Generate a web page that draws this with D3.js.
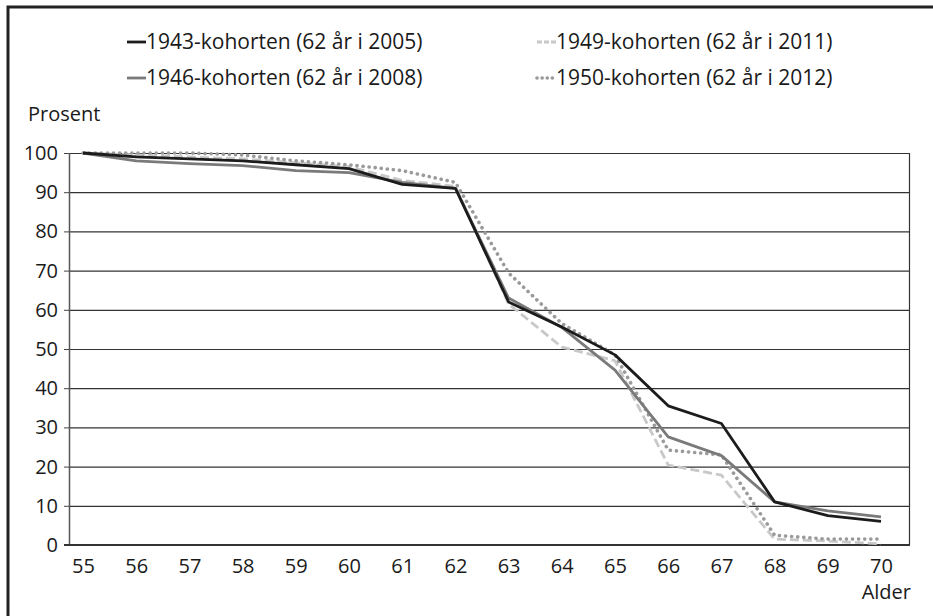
<!DOCTYPE html>
<html>
<head>
<meta charset="utf-8">
<script src="https://cdn.jsdelivr.net/npm/d3@7"></script>
<style>
  body { margin: 0; background: #fff; }
  text { font-family: "Open Sans", "Noto Sans", sans-serif; fill: #1a1a1a; }
</style>
</head>
<body>
<div id="canvas"></div>
<script>
"use strict"

// chart values
let ages = [55, 56, 57, 58, 59, 60, 61, 62, 63, 64, 65, 66, 67, 68, 69, 70];
let yTicks = [0, 10, 20, 30, 40, 50, 60, 70, 80, 90, 100];
let seriesNames = [
    "1943-kohorten (62 år i 2005)",
    "1946-kohorten (62 år i 2008)",
    "1949-kohorten (62 år i 2011)",
    "1950-kohorten (62 år i 2012)"
];
let c1943 = [100, 99, 98.5, 98, 97, 96, 92, 91, 62, 55.6, 48.5, 35.5, 31, 11, 7.5, 6];
let c1946 = [100, 98, 97.3, 96.8, 95.5, 95, 92.5, 91, 63, 55.5, 44.6, 27.6, 22.8, 11, 8.7, 7.2];
let c1949 = [100, 99.5, 99, 98.5, 97.5, 96.5, 93, 91.5, 61.5, 50.5, 47, 20.4, 17.8, 1.5, 1, 0.3];
let c1950 = [100, 100, 100, 99.5, 98, 97, 95.5, 92.5, 69.4, 56.5, 48.5, 24.2, 23, 2.5, 1.5, 1.5];

let svgWidth = 933;
let svgHeight = 616;
let fontSize = "20px";

// plot area box
let plotLeft = 69, plotRight = 909, plotTop = 153, plotBottom = 545;

let svg = d3.select("#canvas")
    .append("svg")
    .attr("width", svgWidth)
    .attr("height", svgHeight);

/* outer frame, runs off the right and bottom edge like in the picture */
svg.append("rect")
    .attr("x", 8)
    .attr("y", 7)
    .attr("width", 940)
    .attr("height", 640)
    .attr("fill", "none")
    .attr("stroke", "#222")
    .attr("stroke-width", 3);

let xScale = d3.scalePoint()
    .domain(ages)
    .range([83, 881]);

let yScale = d3.scaleLinear()
    .domain([0, 100])
    .range([plotBottom, plotTop]);

// y ticks through the axis generator
let yAxis = svg.append("g")
    .attr("transform", "translate(" + plotLeft + ",0)")
    .call(d3.axisLeft(yScale)
        .tickValues(yTicks)
        .tickSize(5)
        .tickPadding(6));
yAxis.select(".domain").remove();
yAxis.selectAll(".tick line").attr("stroke", "#444");
yAxis.selectAll(".tick text")
    .style("font-size", fontSize)
    .style("font-family", "'Open Sans', 'Noto Sans', sans-serif")
    .attr("fill", "#1a1a1a");

// gridlines
svg.append("g")
    .selectAll("line")
    .data(yTicks.filter(d => d > 0))
    .join("line")
    .attr("x1", plotLeft)
    .attr("x2", plotRight)
    .attr("y1", d => yScale(d) + 0.5)
    .attr("y2", d => yScale(d) + 0.5)
    .attr("stroke", "#333")
    .attr("stroke-width", 1.2);

// left and right sides of plot box
svg.append("line")
    .attr("x1", plotLeft + 0.5).attr("x2", plotLeft + 0.5)
    .attr("y1", plotTop).attr("y2", plotBottom)
    .attr("stroke", "#555").attr("stroke-width", 1.5);
svg.append("line")
    .attr("x1", plotRight + 0.5).attr("x2", plotRight + 0.5)
    .attr("y1", plotTop).attr("y2", plotBottom)
    .attr("stroke", "#333").attr("stroke-width", 1.2);

// x axis labels
let xAxis = svg.append("g")
    .attr("transform", "translate(0," + plotBottom + ")")
    .call(d3.axisBottom(xScale).tickSize(0).tickPadding(14));
xAxis.select(".domain").remove();
xAxis.selectAll(".tick text")
    .style("font-size", fontSize)
    .style("font-family", "'Open Sans', 'Noto Sans', sans-serif")
    .attr("fill", "#1a1a1a");

// bottom axis line
svg.append("line")
    .attr("x1", plotLeft - 5).attr("x2", plotRight + 1)
    .attr("y1", plotBottom).attr("y2", plotBottom)
    .attr("stroke", "#333").attr("stroke-width", 2.2);

// series styles
let seriesList = [
    { name: seriesNames[0], values: c1943, color: "#1c1c1c", dash: null, cap: "butt" },
    { name: seriesNames[1], values: c1946, color: "#7a7a7a", dash: null, cap: "butt" },
    { name: seriesNames[2], values: c1949, color: "#c8c8c8", dash: "9,4", cap: "butt" },
    { name: seriesNames[3], values: c1950, color: "#9a9a9a", dash: "0.1,6", cap: "round" }
];

let line = d3.line()
    .x((d, i) => xScale(ages[i]))
    .y(d => yScale(d));

// draw order: light ones underneath
let drawOrder = [2, 3, 1, 0];
svg.append("g")
    .selectAll("path")
    .data(drawOrder.map(i => seriesList[i]))
    .join("path")
    .attr("d", d => line(d.values))
    .attr("fill", "none")
    .attr("stroke", d => d.color)
    .attr("stroke-width", d => d.cap === "round" ? 3.6 : 2.8)
    .attr("stroke-dasharray", d => d.dash)
    .attr("stroke-linecap", d => d.cap)
    .attr("stroke-linejoin", "round");

// legend
let legendPos = [[120, 42], [120, 78], [530, 42], [530, 78]];
let legend = svg.append("g")
    .selectAll("g")
    .data(seriesList)
    .join("g")
    .attr("transform", (d, i) => "translate(" + legendPos[i][0] + "," + legendPos[i][1] + ")");

legend.append("line")
    .attr("x1", 7).attr("x2", 26)
    .attr("y1", 0).attr("y2", 0)
    .attr("stroke", d => d.color)
    .attr("stroke-width", d => d.cap === "round" ? 3.6 : 2.8)
    .attr("stroke-dasharray", d => d.dash ? (d.cap === "round" ? "0.1,5" : "5,2") : null)
    .attr("stroke-linecap", d => d.cap);

legend.append("text")
    .attr("x", 26)
    .attr("y", 0)
    .attr("dy", "0.35em")
    .style("font-size", "21px")
    .text(d => d.name);

// axis titles
svg.append("text")
    .attr("x", 28)
    .attr("y", 121)
    .style("font-size", "20px")
    .text("Prosent");

svg.append("text")
    .attr("x", 911)
    .attr("y", 599)
    .attr("text-anchor", "end")
    .style("font-size", "20px")
    .text("Alder");
</script>
</body>
</html>
